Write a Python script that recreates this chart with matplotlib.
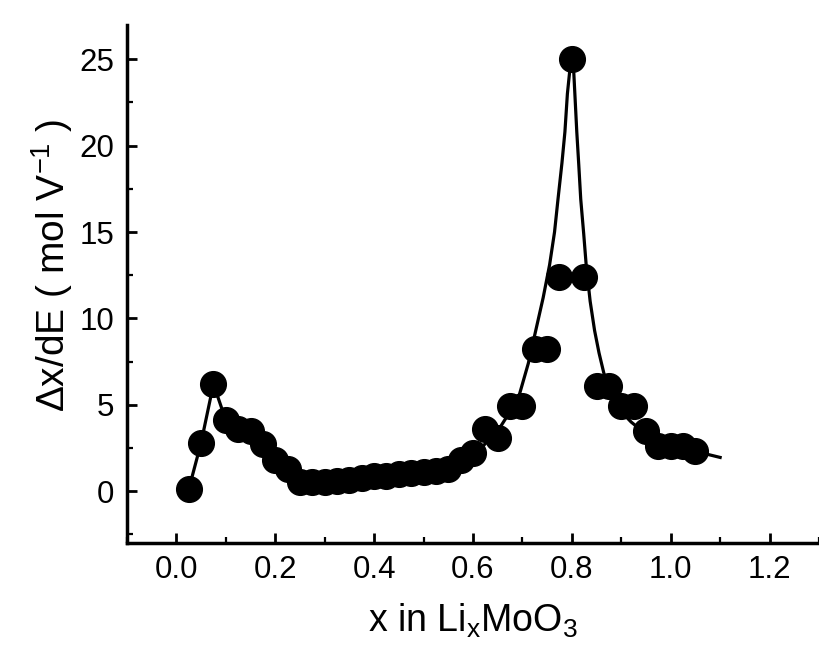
import matplotlib.pyplot as plt
from matplotlib.ticker import MultipleLocator

plt.rcParams['font.family'] = ['Liberation Sans', 'DejaVu Sans']
plt.rcParams['mathtext.default'] = 'regular'

# measured points
x_data = [0.025, 0.05, 0.075, 0.1, 0.125, 0.15, 0.175, 0.2, 0.225, 0.25,
          0.275, 0.3, 0.325, 0.35, 0.375, 0.4, 0.425, 0.45, 0.475, 0.5,
          0.525, 0.55, 0.575, 0.6, 0.625, 0.65, 0.675, 0.7, 0.725, 0.75,
          0.775, 0.8, 0.825, 0.85, 0.875, 0.9, 0.925, 0.95, 0.975, 1.0,
          1.025, 1.05]
y_data = [0.1, 2.8, 6.2, 4.1, 3.6, 3.5, 2.7, 1.8, 1.3, 0.5,
          0.5, 0.5, 0.6, 0.65, 0.75, 0.85, 0.9, 1.0, 1.05, 1.1,
          1.15, 1.3, 1.8, 2.2, 3.6, 3.1, 4.9, 4.9, 8.2, 8.2,
          12.4, 25.0, 12.4, 6.1, 6.1, 4.9, 4.9, 3.5, 2.6, 2.6,
          2.6, 2.3]

# guide curve
x_curve = [0.025, 0.05, 0.075, 0.1, 0.125, 0.15, 0.175, 0.2, 0.225, 0.25,
           0.3, 0.35, 0.4, 0.45, 0.5, 0.55, 0.6, 0.63, 0.655, 0.675,
           0.692, 0.712, 0.727, 0.742, 0.755, 0.765, 0.772, 0.78, 0.786, 0.791,
           0.796, 0.8, 0.804, 0.807, 0.81, 0.814, 0.818, 0.824, 0.829, 0.837,
           0.846, 0.855, 0.865, 0.88, 0.9, 0.92, 0.95, 0.98, 1.01, 1.05, 1.1]
y_curve = [0.1, 2.8, 6.2, 4.1, 3.6, 3.5, 2.7, 1.8, 1.3, 0.6,
           0.55, 0.65, 0.85, 1.0, 1.1, 1.3, 2.0, 2.9, 3.7, 4.6,
           5.4, 7.4, 9.3, 11.2, 13.1, 15.0, 16.9, 19.0, 20.8, 23.0,
           24.4, 25.0, 24.2, 22.5, 20.8, 18.9, 16.9, 14.9, 13.1, 11.0,
           9.3, 8.0, 6.8, 5.6, 4.6, 4.0, 3.3, 2.8, 2.5, 2.3, 1.95]

fig = plt.figure(figsize=(8.19, 6.51), dpi=100)
ax = fig.add_axes([0.155, 0.166, 0.845, 0.796])

ax.plot(x_curve, y_curve, color='black', linewidth=2.3, zorder=2)
ax.plot(x_data, y_data, linestyle='none', marker='o', markersize=18.5,
        color='black', zorder=3)

ax.set_xlim(-0.1, 1.3)
ax.set_ylim(-3, 27)
ax.xaxis.set_major_locator(MultipleLocator(0.2))
ax.xaxis.set_minor_locator(MultipleLocator(0.1))
ax.yaxis.set_major_locator(MultipleLocator(5))
ax.yaxis.set_minor_locator(MultipleLocator(2.5))
ax.set_xticks([0.0, 0.2, 0.4, 0.6, 0.8, 1.0, 1.2])
ax.set_xticklabels(['0.0', '0.2', '0.4', '0.6', '0.8', '1.0', '1.2'])

for side in ['top', 'right']:
    ax.spines[side].set_visible(False)
for side in ['left', 'bottom']:
    ax.spines[side].set_linewidth(2.5)

ax.tick_params(which='major', direction='in', length=7, width=2.0,
               labelsize=22.5, pad=9)
ax.tick_params(which='minor', direction='in', length=4, width=1.6)

ax.set_xlabel('x in Li$_x$MoO$_3$', fontsize=27, labelpad=12)
ax.set_ylabel('Δx/dE ( mol V$^{-1}$ )', fontsize=28)
ax.yaxis.set_label_coords(-0.075, 0.535)

fig.savefig('out.png', dpi=100)
